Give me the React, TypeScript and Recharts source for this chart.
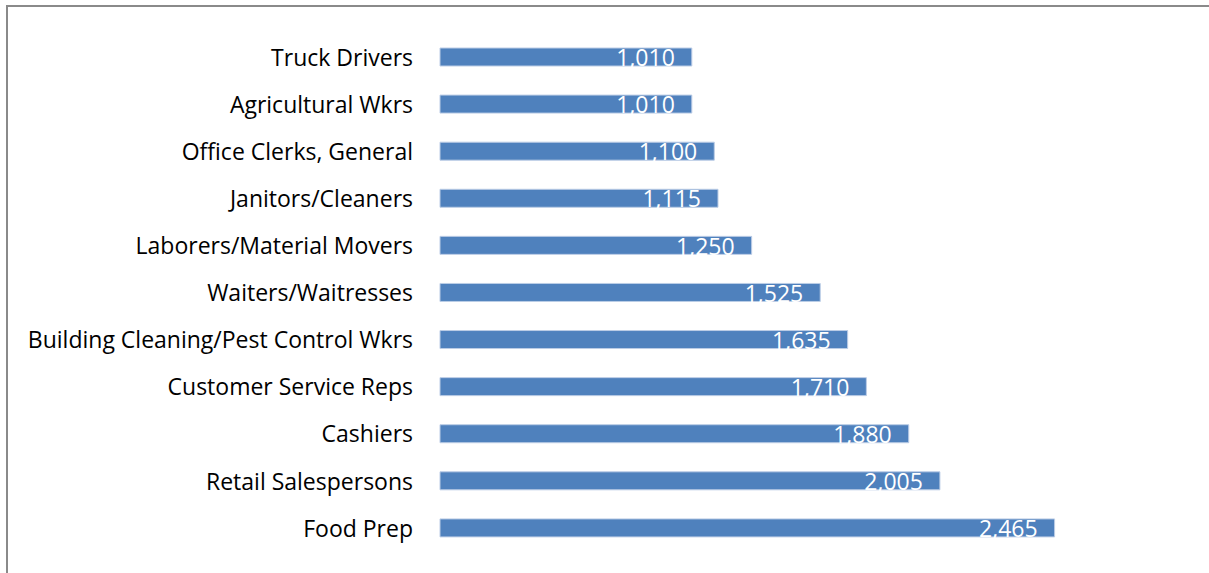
import React from "react";
import { BarChart, Bar, XAxis, YAxis, LabelList } from "recharts";

const categories = [
  "Truck Drivers",
  "Agricultural Wkrs",
  "Office Clerks, General",
  "Janitors/Cleaners",
  "Laborers/Material Movers",
  "Waiters/Waitresses",
  "Building Cleaning/Pest Control Wkrs",
  "Customer Service Reps",
  "Cashiers",
  "Retail Salespersons",
  "Food Prep",
];
const values = [1010, 1010, 1100, 1115, 1250, 1525, 1635, 1710, 1880, 2005, 2465];

const data = categories.map((name, i) => ({ name, value: values[i] }));

const FONT = "'Open Sans', 'Noto Sans', sans-serif";

export default function App() {
  return (
    <div style={{ position: "absolute", left: 0, top: 0, width: 1209, height: 573, background: "#fff", overflow: "hidden" }}>
      <div
        style={{
          position: "absolute",
          left: 6,
          top: 5,
          width: 1220,
          height: 600,
          borderLeft: "2px solid #8a8a8a",
          borderTop: "2px solid #8a8a8a",
          boxSizing: "border-box",
        }}
      />
      <div style={{ position: "absolute", left: 0, top: 0 }}>
        <BarChart
          width={1209}
          height={573}
          data={data}
          layout="vertical"
          margin={{ top: 33, right: 21, bottom: 22, left: 40 }}
          barCategoryGap={0}
        >
          <XAxis type="number" domain={[0, 3000]} hide />
          <YAxis
            type="category"
            dataKey="name"
            width={400}
            axisLine={false}
            tickLine={false}
            tickSize={6}
            tickMargin={21}
            interval={0}
            tick={{ fill: "#000", fontSize: 23, fontFamily: FONT, dy: 1 }}
          />
          <Bar
            dataKey="value"
            fill="#4F81BD"
            stroke="#BCCDE6"
            strokeWidth={1}
            barSize={18}
            isAnimationActive={false}
          >
            <LabelList
              dataKey="value"
              position="insideRight"
              offset={17}
              fill="#fff"
              fontSize={23}
              fontFamily={FONT}
              dy={1}
              formatter={(v: number) => v.toLocaleString("en-US")}
            />
          </Bar>
        </BarChart>
      </div>
    </div>
  );
}
